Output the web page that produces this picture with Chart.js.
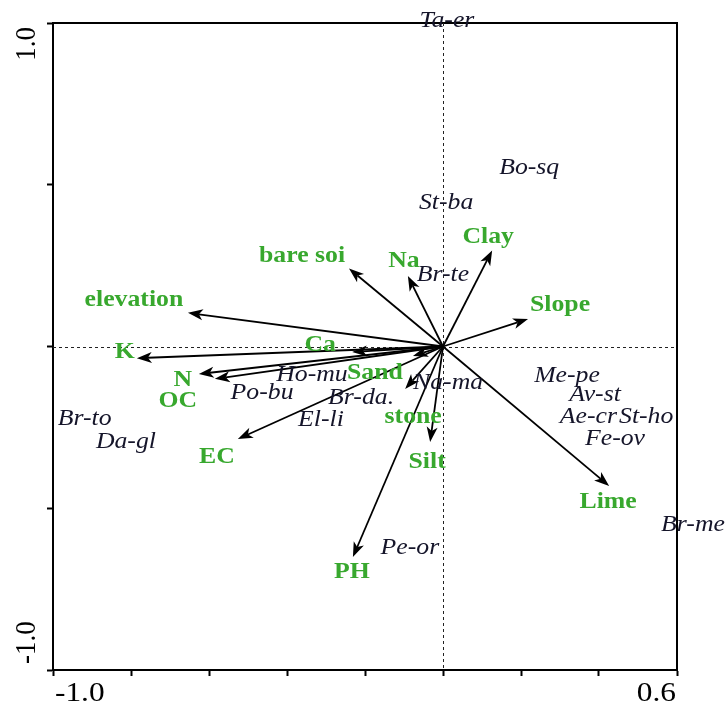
<!DOCTYPE html>
<html><head><meta charset="utf-8">
<script src="https://cdn.jsdelivr.net/npm/chart.js@4.4.1/dist/chart.umd.min.js"></script>
<style>html,body{margin:0;padding:0;background:#fff;}canvas{display:block;}</style>
</head><body>
<canvas id="c" width="726" height="704"></canvas>
<script>
// ---- data (CCA biplot scores) ----
const speciesNames = ['Ta-er','Bo-sq','St-ba','Br-te','Ho-mu','Po-bu','Br-da.','Na-ma','El-li','Br-to','Da-gl','Me-pe','Av-st','Ae-cr','St-ho','Fe-ov','Br-me','Pe-or'];
const speciesX = [0.010, 0.221, 0.008, 0.000, -0.336, -0.464, -0.210, 0.013, -0.313, -0.919, -0.813, 0.318, 0.390, 0.373, 0.521, 0.441, 0.641, -0.085];
const speciesY = [1.006, 0.552, 0.444, 0.221, -0.088, -0.144, -0.159, -0.113, -0.227, -0.224, -0.295, -0.091, -0.150, -0.218, -0.218, -0.286, -0.552, -0.623];

const envNames = ['elevation','K','N','OC','EC','bare soi','Na','Clay','Slope','Lime','PH','Silt','stone','Sand','Ca'];
const envX = [-0.654, -0.785, -0.626, -0.585, -0.526, -0.241, -0.090, 0.126, 0.218, 0.426, -0.231, -0.033, -0.097, -0.077, -0.233];
const envY = [0.104, -0.036, -0.085, -0.100, -0.286, 0.241, 0.218, 0.297, 0.085, -0.431, -0.651, -0.295, -0.131, -0.029, -0.017];

const xTickValues = [-1.0, 0.6];
const xTickLabels = ['-1.0', '0.6'];
const yTickValues = [1.0, -1.0];
const yTickLabels = ['1.0', '-1.0'];

// ---- style / layout (pixels) ----
const SX = 1.12;              // horizontal stretch of the original figure's text
const GREEN = '#38a82e';
const SPECIES_COLOR = '#15152a';
const envLabelOffset = {
  'elevation': [-54, -13], 'K': [-12, -6], 'N': [-16, 6], 'OC': [-37, 22], 'EC': [-21, 18],
  'bare soi': [-47, -12], 'Na': [-4, -15], 'Clay': [-4, -13], 'Slope': [32, -14], 'Lime': [-1, 16],
  'PH': [-1, 15], 'Silt': [-3, 20], 'stone': [8, 28], 'Sand': [-38, 17], 'Ca': [-32, -7]
};

function drawText(ctx, s, x, y, font, color, align, base) {
  ctx.save();
  ctx.translate(x, y);
  ctx.scale(SX, 1);
  ctx.font = font;
  ctx.fillStyle = color;
  ctx.textAlign = align || 'center';
  ctx.textBaseline = base || 'middle';
  ctx.fillText(s, 0, 0);
  ctx.restore();
}

function drawArrow(ctx, x1, y1, x2, y2) {
  const a = Math.atan2(y2 - y1, x2 - x1), c = Math.cos(a), s = Math.sin(a);
  const L = 15, W = 5.5, N = 11;
  ctx.beginPath();
  ctx.moveTo(x1, y1);
  ctx.lineTo(x2 - N * c, y2 - N * s);
  ctx.stroke();
  ctx.beginPath();
  ctx.moveTo(x2, y2);
  ctx.lineTo(x2 - L * c + W * s, y2 - L * s - W * c);
  ctx.lineTo(x2 - N * c, y2 - N * s);
  ctx.lineTo(x2 - L * c - W * s, y2 - L * s + W * c);
  ctx.closePath();
  ctx.fill();
}

const biplot = {
  id: 'biplot',
  afterDraw(chart) {
    const ctx = chart.ctx, a = chart.chartArea, xs = chart.scales.x, ys = chart.scales.y;
    ctx.save();
    // top & right frame
    ctx.strokeStyle = '#000'; ctx.lineWidth = 2;
    ctx.beginPath();
    ctx.moveTo(a.left, a.top); ctx.lineTo(a.right, a.top); ctx.lineTo(a.right, a.bottom);
    ctx.stroke();
    // dashed zero lines
    const x0 = Math.round(xs.getPixelForValue(0)) + 0.5, y0 = Math.round(ys.getPixelForValue(0)) + 0.5;
    ctx.lineWidth = 1; ctx.strokeStyle = '#222'; ctx.setLineDash([3, 3]);
    ctx.beginPath();
    ctx.moveTo(x0, a.top); ctx.lineTo(x0, a.bottom);
    ctx.moveTo(a.left, y0); ctx.lineTo(a.right, y0);
    ctx.stroke();
    ctx.setLineDash([]);
    // env arrows
    ctx.strokeStyle = '#000'; ctx.fillStyle = '#000'; ctx.lineWidth = 1.8;
    const ox = xs.getPixelForValue(0), oy = ys.getPixelForValue(0);
    envNames.forEach((n, i) => {
      drawArrow(ctx, ox, oy, xs.getPixelForValue(envX[i]), ys.getPixelForValue(envY[i]));
    });
    // species labels
    speciesNames.forEach((n, i) => {
      drawText(ctx, n, xs.getPixelForValue(speciesX[i]), ys.getPixelForValue(speciesY[i]),
        'italic 23px "Liberation Serif"', SPECIES_COLOR);
    });
    // env labels
    envNames.forEach((n, i) => {
      const o = envLabelOffset[n];
      drawText(ctx, n, xs.getPixelForValue(envX[i]) + o[0], ys.getPixelForValue(envY[i]) + o[1],
        'bold 23px "Liberation Serif"', GREEN);
    });
    // axis tick labels
    xTickValues.forEach((v, i) => {
      const px = xs.getPixelForValue(v);
      const align = i === 0 ? 'left' : 'right';
      drawText(ctx, xTickLabels[i], px + (i === 0 ? 2 : -1), 701, '28px "Liberation Serif"', '#000', align, 'alphabetic');
    });
    yTickValues.forEach((v, i) => {
      const py = ys.getPixelForValue(v);
      ctx.save();
      ctx.translate(35, py + (i === 0 ? 4 : -6));
      ctx.scale(SX, 1);
      ctx.rotate(-Math.PI / 2);
      ctx.font = '27px "Liberation Serif"';
      ctx.fillStyle = '#000';
      ctx.textAlign = i === 0 ? 'right' : 'left';
      ctx.textBaseline = 'alphabetic';
      ctx.fillText(yTickLabels[i], 0, 0);
      ctx.restore();
    });
    ctx.restore();
  }
};

new Chart(document.getElementById('c'), {
  type: 'scatter',
  data: {
    datasets: [
      { label: 'species', data: speciesX.map((v, i) => ({ x: v, y: speciesY[i] })), pointRadius: 0 },
      { label: 'env', data: envX.map((v, i) => ({ x: v, y: envY[i] })), pointRadius: 0 }
    ]
  },
  options: {
    responsive: false,
    animation: false,
    devicePixelRatio: 1,
    layout: { padding: { top: 23, right: 49, left: 0, bottom: 0 } },
    plugins: { legend: { display: false }, tooltip: { enabled: false } },
    scales: {
      x: {
        type: 'linear', min: -1.0, max: 0.6,
        ticks: { display: false, stepSize: 0.2 },
        grid: { drawOnChartArea: false, drawTicks: true, tickLength: 6, tickWidth: 2, tickColor: '#000' },
        border: { display: true, color: '#000', width: 2 },
        afterFit: (s) => { s.height = 34; }
      },
      y: {
        type: 'linear', min: -1.0, max: 1.0,
        ticks: { display: false, stepSize: 0.5 },
        grid: { drawOnChartArea: false, drawTicks: true, tickLength: 6, tickWidth: 2, tickColor: '#000' },
        border: { display: true, color: '#000', width: 2 },
        afterFit: (s) => { s.width = 53; }
      }
    }
  },
  plugins: [biplot]
});
</script>
</body></html>
